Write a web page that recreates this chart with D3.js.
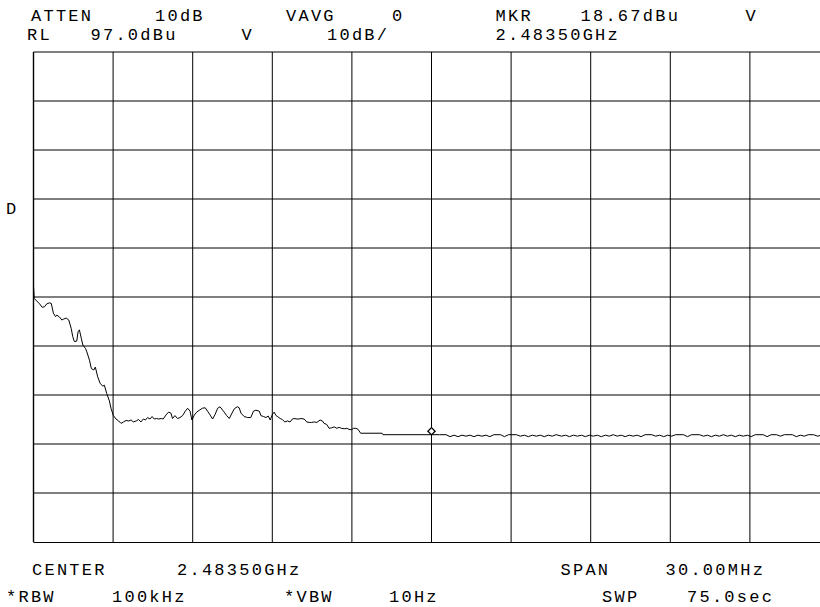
<!DOCTYPE html>
<html>
<head>
<meta charset="UTF-8">
<title>Spectrum analyzer trace</title>
<script src="https://d3js.org/d3.v7.min.js"></script>
<style>
  body { margin: 0; background: #fff; }
  svg text {
    font-family: "Liberation Mono", "DejaVu Sans Mono", monospace;
    font-size: 17px;
    letter-spacing: 2.25px;
    fill: #000;
  }
</style>
</head>
<body>
<div id="chart"></div>
<script>
// Header / footer annotations of the analyzer screen
const headerRow1 = ["ATTEN", "10dB", "VAVG", "0", "MKR", "18.67dBu", "V"];
const headerRow2 = ["RL", "97.0dBu", "V", "10dB/", "2.48350GHz"];
const footerRow1 = ["CENTER", "2.48350GHz", "SPAN", "30.00MHz"];
const footerRow2 = ["*RBW", "100kHz", "*VBW", "10Hz", "SWP", "75.0sec"];
const sideLabel = "D";

// Scale settings: reference level 97 dBuV, 10 dB/div, 30 MHz span
const refLevel = 97;
const dbPerDiv = 10;
const spanMHz = 30;
const divisions = 10;

// Trace: frequency from span start (MHz) and level (dBuV)
const traceMHz = [
  0.00, 0.03, 0.12, 0.23, 0.33, 0.41, 0.50, 0.60, 0.67, 0.75, 0.83, 0.88, 0.98, 1.07, 1.14, 1.23,
  1.33, 1.42, 1.48, 1.54, 1.63, 1.68, 1.73, 1.80, 1.86, 1.96, 2.01, 2.11, 2.18, 2.27, 2.33, 2.42,
  2.51, 2.61, 2.67, 2.76, 2.86, 2.92, 3.01, 3.11, 3.21, 3.30, 3.39, 3.49, 3.59, 3.68, 3.76, 3.87,
  3.96, 4.05, 4.14, 4.22, 4.30, 4.39, 4.47, 4.55, 4.64, 4.72, 4.81, 4.89, 4.99, 5.09, 5.18, 5.24,
  5.33, 5.43, 5.52, 5.62, 5.72, 5.81, 5.90, 5.97, 6.06, 6.15, 6.25, 6.37, 6.47, 6.56, 6.66, 6.75,
  6.85, 6.94, 7.03, 7.13, 7.19, 7.28, 7.38, 7.48, 7.57, 7.68, 7.75, 7.82, 7.94, 8.07, 8.19, 8.29,
  8.38, 8.51, 8.57, 8.67, 8.76, 8.85, 8.92, 9.01, 9.07, 9.14, 9.20, 9.30, 9.38, 9.47, 9.57, 9.67,
  9.76, 9.82, 9.93, 10.01, 10.08, 10.20, 10.30, 10.39, 10.48, 10.58, 10.68, 10.80, 10.89, 10.95,
  11.05, 11.14, 11.23, 11.33, 11.43, 11.52, 11.60, 11.71, 11.81, 11.89, 11.98, 12.06, 12.15, 12.23,
  12.33, 13.14, 13.17, 15.00, 15.30, 15.55, 15.70, 15.85, 16.00, 16.15, 16.30, 16.45, 16.60, 16.75,
  16.90, 17.05, 17.20, 17.35, 17.60, 17.75, 17.90, 18.20, 18.35, 18.50, 18.65, 18.80, 18.95, 19.10,
  19.25, 19.40, 19.55, 19.70, 19.90, 20.05, 20.20, 20.35, 20.50, 20.65, 20.80, 20.95, 21.10, 21.25,
  21.40, 21.55, 21.70, 21.85, 22.00, 22.15, 22.30, 22.45, 22.60, 22.75, 22.90, 23.05, 23.30, 23.45,
  23.60, 23.75, 23.90, 24.05, 24.20, 24.50, 24.65, 24.80, 25.10, 25.25, 25.40, 25.55, 25.70, 25.85,
  26.00, 26.15, 26.30, 26.45, 26.60, 26.75, 26.90, 27.05, 27.20, 27.50, 27.65, 27.80, 28.00, 28.15,
  28.30, 28.60, 28.75, 28.90, 29.05, 29.20, 29.40, 29.55, 29.70, 29.85, 30.00
];
const traceDbuV = [
  49.2, 46.7, 46.2, 45.6, 44.9, 45.0, 45.6, 45.8, 45.7, 43.7, 43.0, 43.3, 42.9, 42.3, 42.5, 42.7,
  42.3, 40.6, 38.9, 37.9, 38.0, 39.9, 40.3, 38.6, 37.2, 36.5, 35.8, 34.1, 32.4, 32.1, 32.7, 30.7,
  29.4, 28.8, 29.0, 27.3, 25.8, 24.3, 22.8, 22.1, 21.7, 21.2, 21.5, 21.8, 21.7, 21.9, 21.5, 21.7,
  22.0, 21.5, 22.1, 21.9, 22.4, 22.1, 22.6, 22.1, 22.2, 22.1, 22.2, 22.1, 22.9, 23.5, 23.3, 22.2,
  22.8, 22.2, 22.4, 22.8, 23.7, 24.3, 23.7, 21.9, 22.9, 23.5, 23.9, 24.3, 24.4, 23.7, 22.9, 22.1,
  23.1, 24.3, 24.6, 23.9, 23.5, 22.8, 22.2, 23.3, 24.2, 24.6, 24.4, 23.3, 22.6, 22.4, 22.4, 23.7,
  23.9, 23.7, 22.8, 22.6, 22.4, 22.7, 21.9, 23.1, 23.5, 22.8, 22.6, 22.2, 22.0, 21.5, 21.7, 21.5,
  22.1, 22.2, 22.1, 22.1, 22.2, 22.1, 21.5, 21.4, 21.4, 21.5, 21.4, 21.9, 21.7, 21.2,
  21.0, 20.2, 20.3, 20.5, 20.2, 20.4, 20.2, 20.1, 20.2, 20.0, 19.9, 20.2, 20.2, 20.0,
  19.2, 19.2, 18.9, 18.9, 18.9, 18.9, 18.5, 18.8, 18.5, 18.8, 18.6, 18.8, 18.5, 18.8,
  18.6, 18.8, 18.5, 18.9, 18.9, 18.5, 18.9, 18.9, 18.6, 18.8, 18.5, 18.8, 18.6, 18.8,
  18.5, 18.8, 18.6, 18.9, 18.6, 18.8, 18.5, 18.8, 18.6, 18.8, 18.5, 18.8, 18.6, 18.8,
  18.5, 18.8, 18.6, 18.9, 18.6, 18.8, 18.5, 18.8, 18.6, 18.8, 18.5, 18.9, 18.9, 18.6,
  18.8, 18.5, 18.8, 18.6, 18.9, 18.9, 18.5, 18.9, 18.9, 18.6, 18.8, 18.5, 18.8, 18.6,
  18.9, 18.6, 18.8, 18.5, 18.8, 18.6, 18.8, 18.5, 18.9, 18.9, 18.5, 18.9, 18.9, 18.6,
  18.9, 18.9, 18.5, 18.8, 18.6, 18.9, 18.9, 18.6, 18.8, 18.5, 18.8
];

// Marker
const markerMHz = 15.0;
const markerDbuV = 18.67;

const width = 820, height = 607;
const plot = { left: 33.5, right: 829.5, top: 52, bottom: 542 };

const svg = d3.select("#chart").append("svg")
  .attr("width", width)
  .attr("height", height);

const x = d3.scaleLinear().domain([0, spanMHz]).range([plot.left, plot.right]);
const y = d3.scaleLinear()
  .domain([refLevel - dbPerDiv * divisions, refLevel])
  .range([plot.bottom, plot.top]);

// graticule
const xTicks = d3.range(0, divisions + 1).map(i => i * spanMHz / divisions);
const yTicks = d3.range(0, divisions + 1).map(i => refLevel - i * dbPerDiv);

svg.append("g").selectAll("line")
  .data(xTicks)
  .join("line")
  .attr("x1", d => x(d)).attr("x2", d => x(d))
  .attr("y1", plot.top).attr("y2", plot.bottom)
  .attr("stroke", "#000")
  .attr("stroke-width", (d, i) => i === 0 ? 1.4 : 1);

svg.append("g").selectAll("line")
  .data(yTicks)
  .join("line")
  .attr("x1", plot.left).attr("x2", plot.right)
  .attr("y1", (d, i) => i === divisions ? y(d) + 0.5 : y(d))
  .attr("y2", (d, i) => i === divisions ? y(d) + 0.5 : y(d))
  .attr("stroke", "#000")
  .attr("stroke-width", 1);

// trace
const line = d3.line()
  .x(d => x(d[0]))
  .y(d => y(d[1]));

svg.append("path")
  .datum(d3.zip(traceMHz, traceDbuV))
  .attr("d", line)
  .attr("fill", "none")
  .attr("stroke", "#000")
  .attr("stroke-width", 1);

// marker diamond, bottom tip on the marker point
const mx = x(markerMHz), my = y(markerDbuV) - 4.6;
svg.append("path")
  .attr("d", d3.symbol().type(d3.symbolSquare).size(26)())
  .attr("transform", `translate(${mx},${my}) rotate(45)`)
  .attr("fill", "#fff")
  .attr("stroke", "#000")
  .attr("stroke-width", 1.3);

// annotations
function row(labels, xs, yBase) {
  svg.append("g").selectAll("text")
    .data(labels)
    .join("text")
    .attr("x", (d, i) => xs[i])
    .attr("y", yBase)
    .text(d => d);
}

row(headerRow1, [31, 155, 286, 392, 495.5, 580.5, 745.5], 21);
row(headerRow2, [27, 90.5, 241.5, 327, 495.5], 39.5);
row(footerRow1, [32, 177, 560.5, 665.5], 575);
row(footerRow2, [6, 112, 284, 389, 602, 687], 601.5);

svg.append("text")
  .attr("x", 6)
  .attr("y", 214)
  .text(sideLabel);
</script>
</body>
</html>
